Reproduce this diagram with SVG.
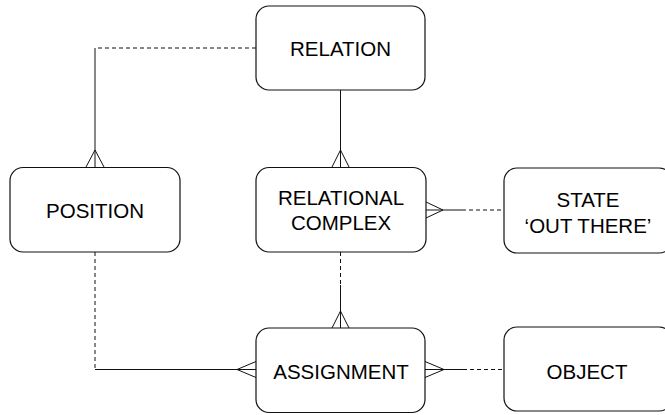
<svg xmlns="http://www.w3.org/2000/svg" width="665" height="415" viewBox="0 0 665 415">
<style>
.box{fill:#fff;stroke:#111;stroke-width:1.2}
.t{font-family:"Liberation Sans",Arial,Helvetica,sans-serif;font-size:20.5px;fill:#000;text-anchor:middle}
.s{fill:none;stroke:#111;stroke-width:1}
.d{fill:none;stroke:#111;stroke-width:1;stroke-dasharray:4,3}
</style>
<rect width="665" height="415" fill="#fff"/>
<g id="connectors">
  <path class="d" d="M256,48 H95"/>
  <path class="s" d="M95,48 V167 M95,150 L86,167 M95,150 L104,167"/>
  <path class="s" d="M340.5,90 V167 M340.5,150 L332,167 M340.5,150 L349,167"/>
  <path class="s" d="M426,210 H462 M443,210 L426,202 M443,210 L426,218"/>
  <path class="d" d="M462,210 H504"/>
  <path class="d" d="M340.5,252 V285"/>
  <path class="s" d="M340.5,285 V328 M340.5,311 L332,328 M340.5,311 L349,328"/>
  <path class="d" d="M95,252 V369.5"/>
  <path class="s" d="M95,369.5 H256 M237,369.5 L256,361.5 M237,369.5 L256,377.5"/>
  <path class="s" d="M425,369.5 H463 M444,369.5 L425,361.5 M444,369.5 L425,377.5"/>
  <path class="d" d="M463,369.5 H504"/>
</g>
<g id="relation">
  <rect class="box" x="256" y="6" width="169" height="84" rx="13"/>
  <text class="t" x="340.5" y="55.5">RELATION</text>
</g>
<g id="position">
  <rect class="box" x="10" y="167.5" width="170" height="84.5" rx="13"/>
  <text class="t" x="95" y="218">POSITION</text>
</g>
<g id="relational-complex">
  <rect class="box" x="256" y="167.5" width="170" height="84.5" rx="13"/>
  <text class="t" x="341" y="205">RELATIONAL</text>
  <text class="t" x="341" y="230">COMPLEX</text>
</g>
<g id="state">
  <rect class="box" x="504" y="168" width="168" height="85" rx="13"/>
  <text class="t" x="588" y="206.5">STATE</text>
  <text class="t" x="588" y="233">‘OUT THERE’</text>
</g>
<g id="assignment">
  <rect class="box" x="256" y="328" width="169" height="84.5" rx="13"/>
  <text class="t" x="341" y="378.5">ASSIGNMENT</text>
</g>
<g id="object">
  <rect class="box" x="504" y="327" width="168" height="84" rx="13"/>
  <text class="t" x="587" y="379">OBJECT</text>
</g>
</svg>
